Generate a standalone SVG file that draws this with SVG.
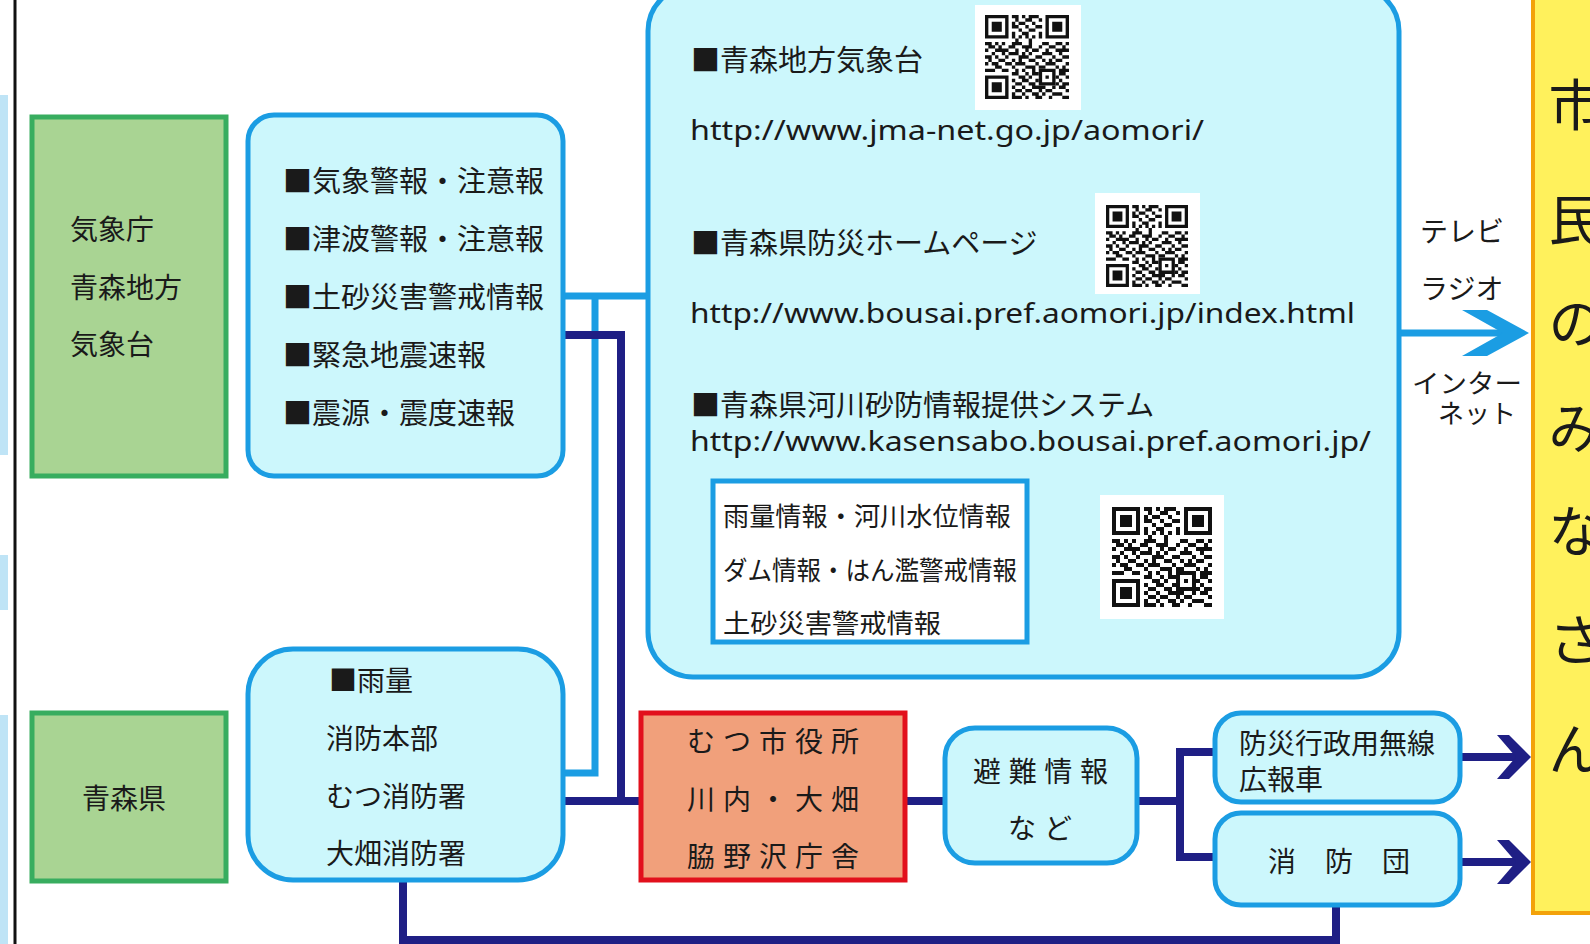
<svg xmlns="http://www.w3.org/2000/svg" xmlns:xlink="http://www.w3.org/1999/xlink" width="1590" height="944" viewBox="0 0 1590 944">
<style>
.t{font-family:"Noto Sans CJK JP","Noto Sans CJK SC",sans-serif;font-size:28px;fill:#1a1a1a;dominant-baseline:central}
.h{font-size:29px}
.s{font-size:26px}
.big{font-size:55px;text-anchor:middle}
.u{font-family:"Noto Sans","DejaVu Sans",sans-serif;font-size:28px;fill:#1a1a1a;dominant-baseline:central}
.g{fill:#a9d493;stroke:#38ad5f;stroke-width:5}
.c{fill:#ccf7fc;stroke:#1b9de3;stroke-width:5}
.lb{fill:none;stroke:#1b9de3;stroke-width:7}
.nv{fill:none;stroke:#1f1f85;stroke-width:8}
</style>
<defs>
<symbol id="qr" viewBox="0 0 25 25">
<path fill="#111" fill-rule="evenodd" d="M0 0h7v7h-7z M1 1v5h5v-5z M2 2h3v3h-3z M18 0h7v7h-7z M19 1v5h5v-5z M20 2h3v3h-3z M0 18h7v7h-7z M1 19v5h5v-5z M2 20h3v3h-3z M16 16h5v5h-5z M17 17v3h3v-3z M18 18h1v1h-1z"/>
<path fill="#111" d="M8 0h2v1h-2z M11 0h1v1h-1z M13 0h3v1h-3z M9 1h1v1h-1z M12 1h2v1h-2z M16 1h1v1h-1z M8 2h1v1h-1z M10 2h2v1h-2z M14 2h1v1h-1z M8 3h2v1h-2z M12 3h1v1h-1z M15 3h2v1h-2z M10 4h1v1h-1z M13 4h2v1h-2z M8 5h1v1h-1z M11 5h2v1h-2z M16 5h1v1h-1z M8 6h1v1h-1z M10 6h1v1h-1z M12 6h1v1h-1z M14 6h1v1h-1z M16 6h1v1h-1z M9 7h1v1h-1z M13 7h1v1h-1z M0 8h2v1h-2z M3 8h1v1h-1z M5 8h1v1h-1z M8 8h3v1h-3z M13 8h1v1h-1z M17 8h2v1h-2z M21 8h2v1h-2z M24 8h1v1h-1z M1 9h2v1h-2z M4 9h1v1h-1z M7 9h2v1h-2z M11 9h3v1h-3z M16 9h1v1h-1z M19 9h2v1h-2z M23 9h1v1h-1z M0 10h1v1h-1z M3 10h4v1h-4z M9 10h1v1h-1z M12 10h1v1h-1z M14 10h2v1h-2z M18 10h1v1h-1z M21 10h4v1h-4z M2 11h1v1h-1z M5 11h1v1h-1z M7 11h3v1h-3z M11 11h1v1h-1z M13 11h1v1h-1z M17 11h3v1h-3z M22 11h1v1h-1z M0 12h2v1h-2z M3 12h1v1h-1z M6 12h1v1h-1z M10 12h3v1h-3z M15 12h2v1h-2z M20 12h1v1h-1z M23 12h2v1h-2z M1 13h1v1h-1z M4 13h2v1h-2z M8 13h1v1h-1z M10 13h1v1h-1z M13 13h2v1h-2z M17 13h1v1h-1z M19 13h1v1h-1z M21 13h2v1h-2z M0 14h1v1h-1z M2 14h2v1h-2z M6 14h2v1h-2z M9 14h3v1h-3z M15 14h1v1h-1z M18 14h3v1h-3z M24 14h1v1h-1z M3 15h2v1h-2z M8 15h1v1h-1z M12 15h3v1h-3z M16 15h2v1h-2z M21 15h1v1h-1z M23 15h1v1h-1z M0 16h3v1h-3z M5 16h2v1h-2z M9 16h1v1h-1z M11 16h1v1h-1z M14 16h1v1h-1z M22 16h3v1h-3z M8 17h2v1h-2z M12 17h1v1h-1z M14 17h2v1h-2z M22 17h2v1h-2z M10 18h2v1h-2z M13 18h1v1h-1z M21 18h1v1h-1z M24 18h1v1h-1z M8 19h1v1h-1z M11 19h2v1h-2z M15 19h1v1h-1z M22 19h1v1h-1z M9 20h2v1h-2z M13 20h2v1h-2z M21 20h1v1h-1z M23 20h2v1h-2z M8 21h1v1h-1z M11 21h1v1h-1z M14 21h4v1h-4z M20 21h1v1h-1z M22 21h2v1h-2z M9 22h2v1h-2z M12 22h2v1h-2z M16 22h1v1h-1z M18 22h2v1h-2z M24 22h1v1h-1z M8 23h1v1h-1z M11 23h1v1h-1z M14 23h2v1h-2z M17 23h1v1h-1z M20 23h3v1h-3z M8 24h3v1h-3z M12 24h1v1h-1z M15 24h2v1h-2z M19 24h1v1h-1z M23 24h2v1h-2z"/>
</symbol>
</defs>
<rect width="1590" height="944" fill="#fff"/>
<g id="edge">
<rect x="0" y="95" width="8" height="360" fill="#bfe4f6"/>
<rect x="0" y="555" width="8" height="55" fill="#bfe4f6"/>
<rect x="0" y="715" width="8" height="229" fill="#bfe4f6"/>
<line x1="15" y1="0" x2="15" y2="944" stroke="#111" stroke-width="3"/>
</g>
<g id="connectors">
<polyline class="lb" points="563,296 648,296"/>
<polyline class="lb" points="595,296 595,773 565,773"/>
<polyline class="nv" points="563,335 621,335 621,801"/>
<polyline class="nv" points="565,801 641,801"/>
<polyline class="nv" points="905,801 945,801"/>
<polyline class="nv" points="1137,801 1180,801"/>
<polyline class="nv" points="1215,752 1180,752 1180,857 1215,857"/>
<polyline class="nv" points="403,880 403,940 1336,940 1336,905"/>
<line class="lb" x1="1399" y1="333" x2="1506" y2="333" stroke-width="9"/>
<polygon fill="#1b9de3" points="1462,310 1487,310 1529,333 1487,356 1462,356 1503,333"/>
<line class="nv" x1="1460" y1="757" x2="1520" y2="757"/>
<polygon fill="#1f1f85" points="1497,735 1509,735 1531,757 1509,779 1497,779 1516,757"/>
<line class="nv" x1="1460" y1="862" x2="1520" y2="862"/>
<polygon fill="#1f1f85" points="1497,840 1509,840 1531,862 1509,884 1497,884 1516,862"/>
</g>
<g id="jma">
<rect class="g" x="32" y="117" width="194" height="359"/>
<text class="t" x="70" y="228">気象庁</text>
<text class="t" x="70" y="286">青森地方</text>
<text class="t" x="70" y="343">気象台</text>
</g>
<g id="pref">
<rect class="g" x="32" y="713" width="194" height="168"/>
<text class="t" x="82" y="797">青森県</text>
</g>
<g id="warnings">
<rect class="c" x="248" y="115" width="315" height="361" rx="26"/>
<text class="t h" x="283" y="179">■気象警報・注意報</text>
<text class="t h" x="283" y="237">■津波警報・注意報</text>
<text class="t h" x="283" y="295">■土砂災害警戒情報</text>
<text class="t h" x="283" y="353">■緊急地震速報</text>
<text class="t h" x="283" y="411">■震源・震度速報</text>
</g>
<g id="rain">
<rect class="c" x="248" y="649" width="315" height="231" rx="45"/>
<text class="t" x="329" y="679">■雨量</text>
<text class="t" x="326" y="737">消防本部</text>
<text class="t" x="326" y="795">むつ消防署</text>
<text class="t" x="326" y="852">大畑消防署</text>
</g>
<g id="web">
<rect class="c" x="648" y="-14" width="751" height="691" rx="45"/>
<text class="t h" x="691" y="58">■青森地方気象台</text>
<rect x="975" y="5" width="106" height="105" fill="#fff"/>
<use xlink:href="#qr" href="#qr" x="985" y="15" width="84" height="84"/>
<text class="u" x="690" y="129" textLength="514" lengthAdjust="spacingAndGlyphs">http://www.jma-net.go.jp/aomori/</text>
<text class="t h" x="691" y="241">■青森県防災ホームページ</text>
<rect x="1095" y="193" width="105" height="101" fill="#fff"/>
<use xlink:href="#qr" href="#qr" x="1106" y="205" width="82" height="82"/>
<text class="u" x="690" y="312" textLength="665" lengthAdjust="spacingAndGlyphs">http://www.bousai.pref.aomori.jp/index.html</text>
<text class="t h" x="691" y="403">■青森県河川砂防情報提供システム</text>
<text class="u" x="690" y="440" textLength="681" lengthAdjust="spacingAndGlyphs">http://www.kasensabo.bousai.pref.aomori.jp/</text>
<rect x="713" y="481" width="314" height="161" fill="#fff" stroke="#1b9de3" stroke-width="5"/>
<text class="t s" x="723" y="514" textLength="288" lengthAdjust="spacingAndGlyphs">雨量情報・河川水位情報</text>
<text class="t s" x="723" y="568" textLength="294" lengthAdjust="spacingAndGlyphs">ダム情報・はん濫警戒情報</text>
<text class="t s" x="723" y="621" textLength="218" lengthAdjust="spacingAndGlyphs">土砂災害警戒情報</text>
<rect x="1100" y="495" width="124" height="124" fill="#fff"/>
<use xlink:href="#qr" href="#qr" x="1112" y="507" width="100" height="100"/>
</g>
<g id="media">
<text class="t" x="1420" y="230">テレビ</text>
<text class="t" x="1420" y="287">ラジオ</text>
<text class="t s" x="1412" y="381" textLength="110" lengthAdjust="spacingAndGlyphs">インター</text>
<text class="t s" x="1516" y="411" text-anchor="end">ネット</text>
</g>
<g id="city">
<rect x="641" y="713" width="264" height="167" fill="#f1a07b" stroke="#e2101c" stroke-width="5"/>
<text class="t" x="687" y="740" textLength="172" lengthAdjust="spacing">むつ市役所</text>
<text class="t" x="687" y="798" textLength="172" lengthAdjust="spacing">川内・大畑</text>
<text class="t" x="687" y="855" textLength="172" lengthAdjust="spacing">脇野沢庁舎</text>
</g>
<g id="evac">
<rect class="c" x="945" y="728" width="192" height="135" rx="30"/>
<text class="t" x="973" y="770" textLength="135" lengthAdjust="spacing">避難情報</text>
<text class="t" x="1008" y="827" textLength="64" lengthAdjust="spacing">など</text>
</g>
<g id="radio">
<rect class="c" x="1215" y="713" width="245" height="89" rx="26"/>
<text class="t" x="1239" y="742">防災行政用無線</text>
<text class="t" x="1239" y="778">広報車</text>
</g>
<g id="fire">
<rect class="c" x="1215" y="813" width="245" height="92" rx="26"/>
<text class="t" x="1268" y="860" textLength="142" lengthAdjust="spacing">消防団</text>
</g>
<g id="citizens">
<rect x="1533" y="-6" width="70" height="919" fill="#fff15c" stroke="#f3a20a" stroke-width="4"/>
<text class="t big" x="1576" y="101">市</text>
<text class="t big" x="1576" y="216">民</text>
<text class="t big" x="1576" y="319">の</text>
<text class="t big" x="1576" y="424">み</text>
<text class="t big" x="1576" y="527">な</text>
<text class="t big" x="1576" y="636">さ</text>
<text class="t big" x="1576" y="745">ん</text>
</g>
</svg>
